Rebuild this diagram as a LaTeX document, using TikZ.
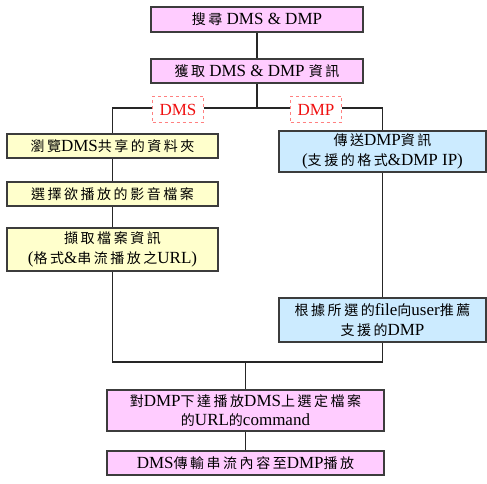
\documentclass[tikz,border=0pt]{standalone}
\usepackage{fontspec}
\setmainfont{Liberation Serif}
\newfontfamily\zhfont[LetterSpace=18]{Noto Sans CJK TC}
\newcommand{\zw}[1]{{\zhfont\fontsize{14}{16}\selectfont #1}}
\usetikzlibrary{calc}
\definecolor{pinkfill}{HTML}{FFCCFF}
\definecolor{yellowfill}{HTML}{FFFFCC}
\definecolor{bluefill}{HTML}{CCEBFF}
\definecolor{edgegray}{HTML}{3C3C3C}
\definecolor{lblred}{HTML}{F01010}
\definecolor{dashred}{HTML}{FF8080}

\begin{document}
\begin{tikzpicture}[x=1pt, y=-1pt,
	stepbase/.style={rectangle, draw=edgegray, line width=1.4pt, inner sep=0pt, align=center, font=\fontsize{17}{19.5}\selectfont},
	pinkbox/.style={stepbase, fill=pinkfill},
	yellowbox/.style={stepbase, fill=yellowfill},
	bluebox/.style={stepbase, fill=bluefill},
	tagbox/.style={rectangle, draw=dashred, dashed, line width=1pt, fill=white, text=lblred, inner sep=0pt, minimum width=51pt, minimum height=26pt, font=\fontsize{17}{19}\selectfont},
	link/.style={draw=black!85, line width=1.6pt},
	every node/.style={align=center}
	]
	\useasboundingbox (0,0) rectangle (487,484);
	% top part
	\node[pinkbox, minimum width=212pt, minimum height=25pt] (search) at (257,19.5) {\zw{搜尋} DMS \& DMP};
	\node[pinkbox, minimum width=212pt, minimum height=24pt] (getinfo) at (257,71) {\zw{獲取} DMS \& DMP \zw{資訊}};
	
	% DMS side
	\node[yellowbox, minimum width=211pt, minimum height=24pt] (browse) at (112.5,146) {\zw{瀏覽}DMS\zw{共享的資料夾}};
	\node[yellowbox, minimum width=211pt, minimum height=24pt] (choose) at (112.5,194) {\zw{選擇欲播放的影音檔案}};
	\node[yellowbox, minimum width=211pt, minimum height=43pt] (extract) at (112.5,249.5) {\zw{擷取檔案資訊}\\(\zw{格式}\&\zw{串流播放之}URL)};
	
	% DMP side
	\node[bluebox, minimum width=207pt, minimum height=41pt] (sendinfo) at (382.5,151.5) {\zw{傳送}DMP\zw{資訊}\\(\zw{支援的格式}\&DMP IP)};
	\node[bluebox, minimum width=207pt, minimum height=44pt] (recommend) at (382.5,320) {\zw{根據所選的}file\zw{向}user\zw{推薦}\\\zw{支援的}DMP};
	
	% bottom part
	\node[pinkbox, minimum width=277pt, minimum height=41pt] (command) at (245.5,410.5) {\zw{對}DMP\zw{下達播放}DMS\zw{上選定檔案}\\\zw{的}URL\zw{的}command};
	\node[pinkbox, minimum width=277pt, minimum height=24pt] (stream) at (245.5,463) {DMS\zw{傳輸串流內容至}DMP\zw{播放}};
	
	\coordinate (split) at (257,108);
	\coordinate (merge) at (245.5,362);
	
	\draw[link] (search) -- (getinfo);
	\draw[link] (getinfo) -- (split);
	\draw[link] (browse.north) |- (split) -| (sendinfo.north);
	\draw[link] (browse) -- (choose);
	\draw[link] (choose) -- (extract);
	\draw[link] (sendinfo) -- (recommend);
	\draw[link] (extract.south) |- (merge) -| (recommend.south);
	\draw[link] (merge) -- (command.north);
	\draw[link] (command) -- (stream);
	
	\node[tagbox] (dmstag) at (178,109.5) {DMS};
	\node[tagbox] (dmptag) at (316,109.5) {DMP};
\end{tikzpicture}
\end{document}
